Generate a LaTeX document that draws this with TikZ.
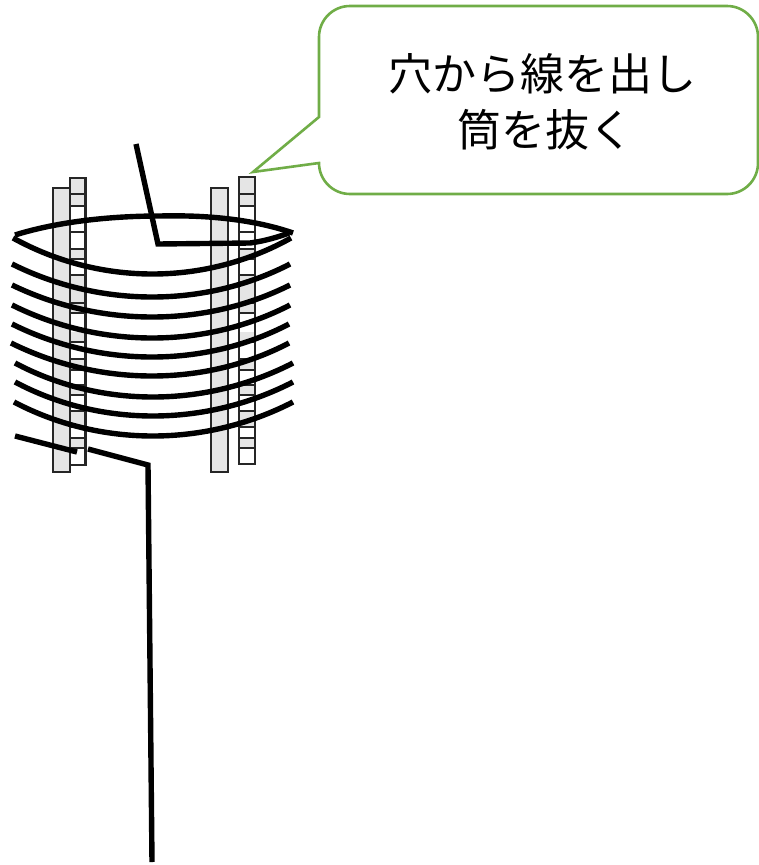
\documentclass[tikz,border=0pt]{standalone}
\usepackage{fontspec}
\newfontfamily\jpfont{Noto Sans CJK JP}
\tikzset{
  wire/.style={draw=black,line width=5.4pt,line join=miter},
  slat/.style={draw=black!85,line width=2.8pt,fill=black!10},
  rung/.style={draw=black!85,line width=2.4pt},
  label/.style={font=\jpfont\fontsize{44}{56}\selectfont,align=center,text=black,inner sep=0pt}
}
\definecolor{calloutgreen}{HTML}{70AD47}
\newcommand{\ladder}[4]{% x0, x1, top, bottom
  \foreach \a/\b in {#3/206,249/259,275/313,332/342,359/370,385/395,411/427,438/448}
    \fill[black!10] (#1,\a) rectangle (#2,\b);
  \foreach \r in {194,206,232,249,259,275,303,313,342,359,370,385,395,411,427,438,448}
    \draw[rung] (#1,\r) -- (#2,\r);
  \draw[rung,line width=2.8pt] (#1,#3) rectangle (#2,#4);
}
\begin{document}
\begin{tikzpicture}[x=1pt,y=-1pt]
\useasboundingbox (0,0) rectangle (758,865);
% callout
\draw[draw=calloutgreen,line width=2.6pt,line join=miter,fill=white]
  (350,6) -- (727,6) arc[start angle=90,end angle=0,x radius=31,y radius=-31]
  -- (758,163) arc[start angle=0,end angle=-90,x radius=31,y radius=-31]
  -- (350,194) arc[start angle=-90,end angle=-180,x radius=31,y radius=-31]
  -- (253,172) -- (319,117) -- (319,37)
  arc[start angle=180,end angle=90,x radius=31,y radius=-31] -- cycle;
\node[label] (txt) at (542,102) {穴から線を出し\\\hspace*{6pt}筒を抜く};
% slats
\draw[slat] (53,188) rectangle (70,472);
\draw[slat] (211,188) rectangle (228,472);
\ladder{70}{85.5}{178}{465}
\ladder{239}{255}{177}{464}
% top loop and lead
\draw[wire] (136,144) -- (158,244) -- (250,243) .. controls (265,241) and (278,237) .. (289,233);
\draw[wire] (293,233) .. controls (250,218) and (200,215) .. (160,216) .. controls (100,216) and (50,224) .. (15,235);
% coil turns
\foreach \l/\r/\e/\b in {13/291/238/274,12/290/264/297,12/290/285/317,12/290/305/338,12/289/324/357,11/289/343/376,15/293/363/397,15/293/382/416,14/293/402/436}{
  \pgfmathsetmacro{\c}{(8*\b-2*\e)/6}
  \draw[wire] (\l,\e) .. controls (100,\c) and (205,\c) .. (\r,\e);
}
% bottom lead
\draw[wire] (15,436) -- (77,452);
\draw[wire] (88,449) -- (148,465) -- (152,862);
\end{tikzpicture}
\end{document}
